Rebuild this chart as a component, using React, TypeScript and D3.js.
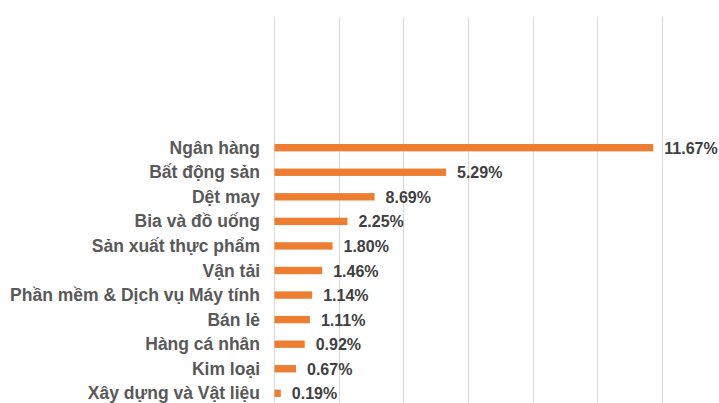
import React from "react";
import * as d3 from "d3";

const categories = [
  "Ngân hàng",
  "Bất động sản",
  "Dệt may",
  "Bia và đồ uống",
  "Sản xuất thực phẩm",
  "Vận tải",
  "Phần mềm & Dịch vụ Máy tính",
  "Bán lẻ",
  "Hàng cá nhân",
  "Kim loại",
  "Xây dựng và Vật liệu",
];

// bar lengths as drawn (percent)
const barValues = [11.73, 5.32, 3.11, 2.27, 1.81, 1.49, 1.18, 1.11, 0.95, 0.68, 0.21];

// data labels as printed
const valueLabels = ["11.67%", "5.29%", "8.69%", "2.25%", "1.80%", "1.46%", "1.14%", "1.11%", "0.92%", "0.67%", "0.19%"];

const gridTicks = [0, 2, 4, 6, 8, 10, 12];

const W = 719;
const H = 403;

export default function App() {
  const x = d3.scaleLinear().domain([0, 12]).range([274, 662]);
  const y = d3
    .scaleBand<string>()
    .domain(categories)
    .range([135.4, 405.6])
    .paddingInner(0.7)
    .paddingOuter(0.35);

  return (
    <svg
      width={W}
      height={H}
      style={{ position: "absolute", left: 0, top: 0, background: "#fff" }}
    >
      {gridTicks.map((t) => (
        <line
          key={t}
          x1={Math.round(x(t)) + 0.5}
          x2={Math.round(x(t)) + 0.5}
          y1={17}
          y2={H}
          stroke="#D9D9D9"
          strokeWidth={1}
        />
      ))}
      {categories.map((c, i) => {
        const by = y(c)!;
        const bh = y.bandwidth();
        const cy = by + bh / 2;
        const x0 = x(0) + 0.5;
        const x1 = x(barValues[i]);
        return (
          <g key={c}>
            <rect x={x0} y={by} width={x1 - x0} height={bh} fill="#ED7D31" />
            <text
              x={260}
              y={cy + 6}
              textAnchor="end"
              fontFamily="'Liberation Sans', Arial, sans-serif"
              fontWeight="bold"
              fontSize={17.5}
              fill="#595959"
            >
              {c}
            </text>
            <text
              x={x1 + 11}
              y={cy + 6}
              textAnchor="start"
              fontFamily="'Liberation Sans', Arial, sans-serif"
              fontWeight="bold"
              fontSize={16}
              fill="#404040"
            >
              {valueLabels[i]}
            </text>
          </g>
        );
      })}
    </svg>
  );
}
